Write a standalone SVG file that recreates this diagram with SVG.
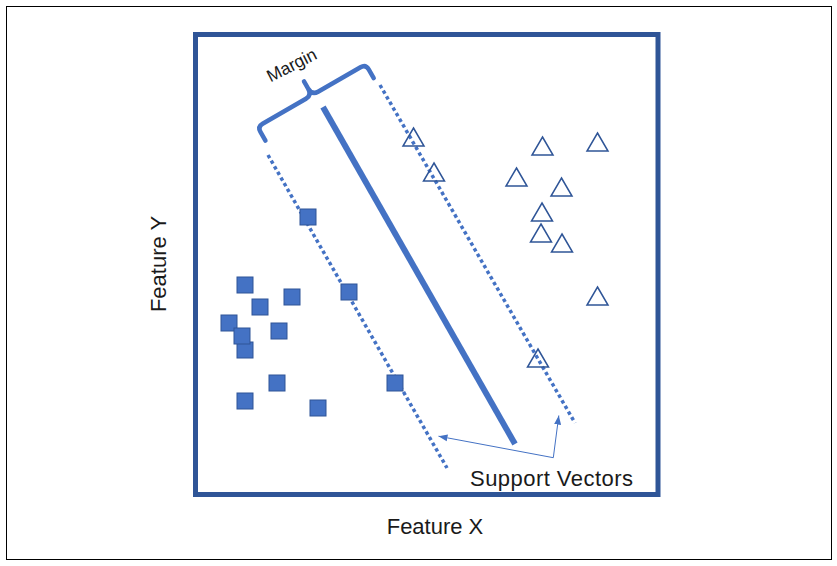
<svg xmlns="http://www.w3.org/2000/svg" width="837" height="566" viewBox="0 0 837 566">
<style>
.txt{font-family:"Liberation Sans",Arial,sans-serif;fill:#1a1a1a}
.sq{fill:#4472C4;stroke:#2F5597;stroke-width:1}
.tri{fill:none;stroke:#2F5597;stroke-width:1.5;stroke-linejoin:miter}
.dot{fill:none;stroke:#4472C4;stroke-width:3.5;stroke-dasharray:3.5 3}
.arr{fill:none;stroke:#4472C4;stroke-width:1}
</style>
<defs>
<rect id="sq" x="-8" y="-8" width="16" height="16"/>
<path id="tri" d="M0,0 L10.5,18 L-10.5,18 Z"/>
<marker id="ah" markerUnits="userSpaceOnUse" markerWidth="10" markerHeight="10" viewBox="0 0 10 10" refX="9" refY="5" orient="auto">
<path d="M0,1.5 L9,5 L0,8.5 Z" fill="#4472C4"/>
</marker>
</defs>
<rect x="6.5" y="6.5" width="825" height="553" fill="#fff" stroke="#000" stroke-width="1"/>
<g id="plot-frame">
<rect x="195.5" y="34.5" width="462.5" height="460" fill="none" stroke="#2F5597" stroke-width="5"/>
</g>
<g id="connectors">
<line id="hyperplane" x1="323" y1="107" x2="515" y2="444" stroke="#4472C4" stroke-width="6"/>
<line class="dot" x1="268" y1="155" x2="447" y2="468"/>
<line class="dot" x1="380" y1="85" x2="575" y2="423"/>
<path class="arr" d="M553.3,457.7 L438.5,436.2" marker-end="url(#ah)"/>
<path class="arr" d="M553.3,457.7 L558.8,415.5" marker-end="url(#ah)"/>
<path id="brace" transform="translate(303.5,80.5) rotate(-30)" fill="none" stroke="#4472C4" stroke-width="4.5" stroke-linecap="round" stroke-linejoin="round" d="M-63,33 L-63,23 Q-63,17 -57,17 L-7,17 Q0,17 0,9 L0,1 M0,9 Q0,17 7,17 L56,17 Q62,17 62,23 L62,33"/>
</g>
<g id="class-squares">
<use href="#sq" class="sq" x="308" y="217"/>
<use href="#sq" class="sq" x="245" y="285"/>
<use href="#sq" class="sq" x="292" y="297"/>
<use href="#sq" class="sq" x="260" y="307"/>
<use href="#sq" class="sq" x="349" y="292"/>
<use href="#sq" class="sq" x="229" y="323"/>
<use href="#sq" class="sq" x="279" y="331"/>
<use href="#sq" class="sq" x="245" y="350"/>
<use href="#sq" class="sq" x="242" y="336"/>
<use href="#sq" class="sq" x="277" y="383"/>
<use href="#sq" class="sq" x="395" y="383"/>
<use href="#sq" class="sq" x="245" y="401"/>
<use href="#sq" class="sq" x="318" y="408"/>
</g>
<g id="class-triangles">
<use href="#tri" class="tri" x="413.5" y="128"/>
<use href="#tri" class="tri" x="434" y="163"/>
<use href="#tri" class="tri" x="542.5" y="137"/>
<use href="#tri" class="tri" x="597.5" y="133"/>
<use href="#tri" class="tri" x="516.5" y="168"/>
<use href="#tri" class="tri" x="561.5" y="178"/>
<use href="#tri" class="tri" x="542" y="203"/>
<use href="#tri" class="tri" x="541" y="224"/>
<use href="#tri" class="tri" x="562" y="234"/>
<use href="#tri" class="tri" x="597.5" y="287"/>
<use href="#tri" class="tri" x="538" y="349"/>
</g>
<g id="labels">
<text class="txt" font-size="17.5" transform="translate(270.5,82.5) rotate(-27)">Margin</text>
<text class="txt" font-size="22" x="470" y="486" textLength="163">Support Vectors</text>
<text class="txt" font-size="22" x="435" y="534" text-anchor="middle">Feature X</text>
<text class="txt" font-size="22" text-anchor="middle" transform="translate(166,264) rotate(-90)">Feature Y</text>
</g>
</svg>
